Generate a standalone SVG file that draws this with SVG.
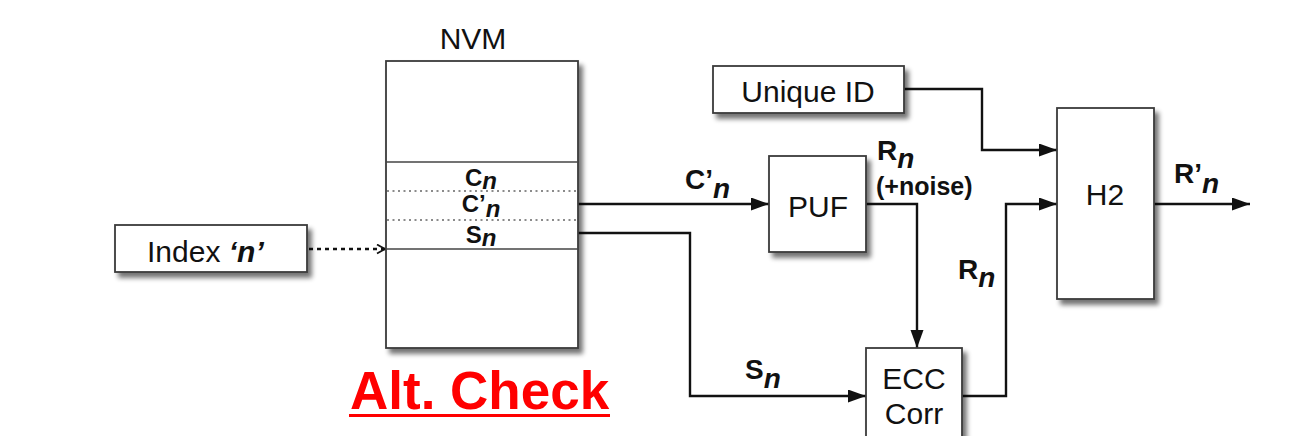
<svg xmlns="http://www.w3.org/2000/svg" width="1304" height="436" viewBox="0 0 1304 436">
<style>
text{font-family:"Liberation Sans",Arial,sans-serif;fill:#111}
.box{fill:#fff;stroke:#3a3a3a;stroke-width:1.8}
.lbl{font-size:30px}
.b{font-weight:bold}
.it{font-style:italic;font-weight:bold}
.wire{fill:none;stroke:#111;stroke-width:2.4}
.div{stroke:#444;stroke-width:1.6}
.dot{stroke:#666;stroke-width:1.4;stroke-dasharray:2 3.5}
</style>
<defs>
<filter id="sh" x="-20%" y="-20%" width="150%" height="150%">
<feGaussianBlur in="SourceAlpha" stdDeviation="2.5"/>
<feOffset dx="4" dy="5" result="o"/>
<feComponentTransfer><feFuncA type="linear" slope="0.55"/></feComponentTransfer>
<feMerge><feMergeNode/><feMergeNode in="SourceGraphic"/></feMerge>
</filter>
<marker id="ah" markerUnits="userSpaceOnUse" markerWidth="20" markerHeight="14" refX="18" refY="6.5" orient="auto">
<path d="M0,0 L18,6.5 L0,13 z" fill="#111"/>
</marker>
<marker id="oh" markerUnits="userSpaceOnUse" markerWidth="12" markerHeight="12" refX="9" refY="5.5" orient="auto">
<path d="M1,1 L9,5.5 L1,10" fill="none" stroke="#111" stroke-width="1.8"/>
</marker>
</defs>

<g id="connectors">
<line x1="309" y1="249" x2="385" y2="249" class="wire" stroke-width="1.8" stroke-dasharray="4 4" marker-end="url(#oh)"/>
<polyline points="578,204 769,204" class="wire" marker-end="url(#ah)"/>
<polyline points="578,233 690,233 690,396 866,396" class="wire" marker-end="url(#ah)"/>
<polyline points="866,204 917,204 917,348" class="wire" marker-end="url(#ah)"/>
<polyline points="962,396 1006,396 1006,204 1057,204" class="wire" marker-end="url(#ah)"/>
<polyline points="904,89 982,89 982,150 1057,150" class="wire" marker-end="url(#ah)"/>
<polyline points="1154,204 1250,204" class="wire" marker-end="url(#ah)"/>
<text x="685" y="189" font-size="28" class="b">C’<tspan class="it" dy="9">n</tspan></text>
<text x="877" y="160" font-size="28" class="b">R<tspan class="it" dy="8">n</tspan></text>
<text x="876" y="195" font-size="25" class="b">(+noise)</text>
<text x="745" y="379" font-size="28" class="b">S<tspan class="it" dy="9">n</tspan></text>
<text x="958" y="279" font-size="28" class="b">R<tspan class="it" dy="8">n</tspan></text>
<text x="1174" y="183" font-size="28" class="b">R’<tspan class="it" dy="10">n</tspan></text>
</g>

<g id="index">
<rect x="115" y="225" width="192" height="47" class="box" filter="url(#sh)"/>
<text x="147" y="262" class="lbl">Index <tspan class="it">‘n’</tspan></text>
</g>

<g id="nvm">
<rect x="386" y="61" width="192" height="287" class="box" filter="url(#sh)"/>
<line x1="386" y1="162" x2="578" y2="162" class="div"/>
<line x1="387" y1="191" x2="577" y2="191" class="dot"/>
<line x1="387" y1="220" x2="577" y2="220" class="dot"/>
<line x1="386" y1="249" x2="578" y2="249" class="div"/>
<text x="473" y="49" text-anchor="middle" class="lbl">NVM</text>
<text x="481" y="186" text-anchor="middle" font-size="24" class="b">C<tspan class="it" dy="3">n</tspan></text>
<text x="481" y="212" text-anchor="middle" font-size="24" class="b">C’<tspan class="it" dy="5">n</tspan></text>
<text x="481" y="243" text-anchor="middle" font-size="24" class="b">S<tspan class="it" dy="3">n</tspan></text>
</g>

<g id="uniqueid">
<rect x="713" y="66" width="191" height="47" class="box" filter="url(#sh)"/>
<text x="808" y="102" text-anchor="middle" class="lbl">Unique ID</text>
</g>

<g id="puf">
<rect x="769" y="156" width="97" height="96" class="box" filter="url(#sh)"/>
<text x="818" y="217" text-anchor="middle" class="lbl">PUF</text>
</g>

<g id="ecc">
<rect x="866" y="348" width="96" height="100" class="box" filter="url(#sh)"/>
<text x="914" y="389" text-anchor="middle" class="lbl">ECC</text>
<text x="914" y="424" text-anchor="middle" class="lbl">Corr</text>
</g>

<g id="h2">
<rect x="1057" y="108" width="97" height="191" class="box" filter="url(#sh)"/>
<text x="1105" y="205" text-anchor="middle" class="lbl">H2</text>
</g>

<g id="altcheck">
<text x="350" y="409" font-size="53" font-weight="bold" style="fill:#ff0000">Alt. Check</text>
<line x1="349" y1="415.5" x2="610" y2="415.5" stroke="#ff0000" stroke-width="3"/>
</g>
</svg>
